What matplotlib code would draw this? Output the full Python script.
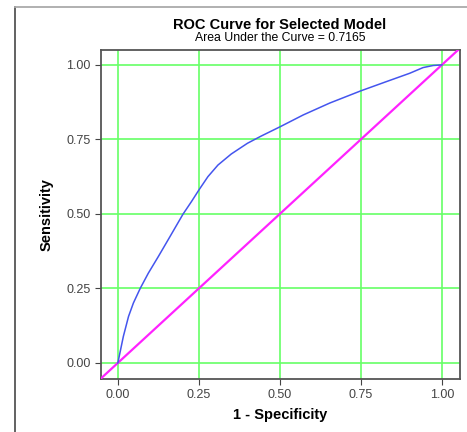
import matplotlib.pyplot as plt
from matplotlib.lines import Line2D

plt.rcParams['font.family'] = ['Liberation Sans', 'DejaVu Sans']

# ROC curve points
fpr = [0.0, 0.017, 0.033, 0.048, 0.069, 0.094, 0.125, 0.161, 0.201, 0.227,
       0.25, 0.278, 0.309, 0.35, 0.40, 0.442, 0.5, 0.572, 0.654,
       0.75, 0.829, 0.901, 0.942, 0.973, 1.0]
tpr = [0.0, 0.089, 0.156, 0.201, 0.25, 0.301, 0.357, 0.424, 0.499, 0.541,
       0.58, 0.625, 0.664, 0.701, 0.737, 0.761, 0.792, 0.832, 0.872,
       0.913, 0.944, 0.972, 0.991, 0.998, 1.0]
ticks = [0.0, 0.25, 0.5, 0.75, 1.0]
tick_labels = ['0.00', '0.25', '0.50', '0.75', '1.00']
diag = [-0.06, 1.06]
auc = 0.7165

fig = plt.figure(figsize=(4.67, 4.32), dpi=100)
ax = fig.add_axes([101 / 467, 1 - 379 / 432, 359 / 467, 329 / 432])

# outer frame (left and top only)
fig.add_artist(Line2D([15 / 467, 15 / 467], [0, 1 - 7 / 432], transform=fig.transFigure,
                      color='#555555', lw=1.3))
fig.add_artist(Line2D([15 / 467, 1], [1 - 7 / 432, 1 - 7 / 432], transform=fig.transFigure,
                      color='#aaaaaa', lw=1.3))

ax.grid(True, color='#66ff66', linewidth=1.2)
ax.set_axisbelow(True)
ax.plot(diag, diag, color='#ff22ff', lw=1.6, zorder=3)
ax.plot(fpr, tpr, color='#4455ee', lw=1.1, zorder=4)

ax.set_xlim(-0.052, 1.056)
ax.set_ylim(-0.054, 1.05)
ax.set_xticks(ticks)
ax.set_yticks(ticks)
ax.set_xticklabels(tick_labels)
ax.set_yticklabels(tick_labels)
ax.tick_params(labelsize=9, labelcolor='#444444', color='#444444', length=4)
for s in ax.spines.values():
    s.set_color('#555555')
    s.set_linewidth(1.3)

ax.set_xlabel('1 - Specificity', fontsize=10.5, fontweight='bold', labelpad=5)
ax.set_ylabel('Sensitivity', fontsize=10.5, fontweight='bold', labelpad=9)

fig.text(280 / 467, 1 - 25 / 432, 'ROC Curve for Selected Model', ha='center', va='center',
         fontsize=10.5, fontweight='bold')
fig.text(280 / 467, 1 - 38 / 432, 'Area Under the Curve = %.4f' % auc, ha='center',
         va='center', fontsize=8.8)

fig.savefig('out.png', dpi=100)
